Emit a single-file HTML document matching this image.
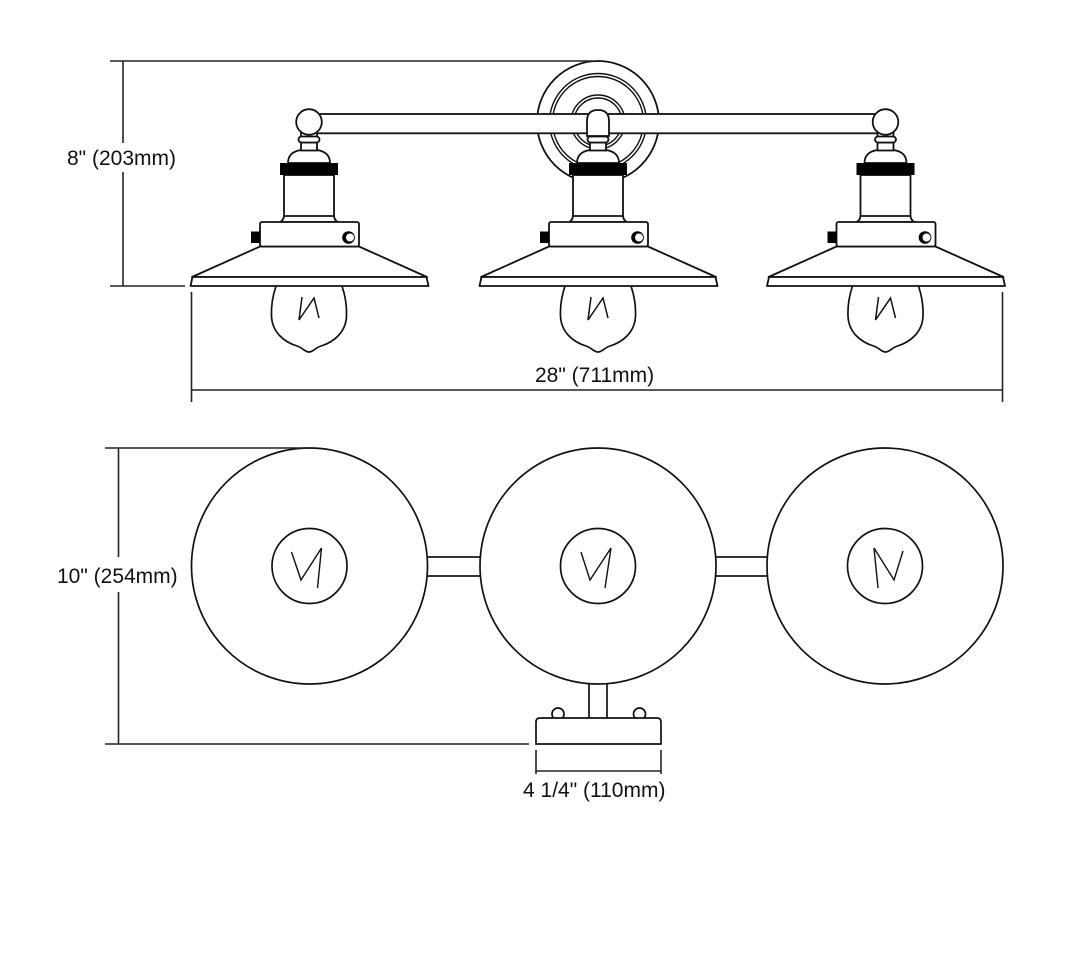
<!DOCTYPE html>
<html>
<head>
<meta charset="utf-8">
<style>
  html,body{margin:0;padding:0;background:#fff;}
  svg{display:block;}
  text{font-family:"Liberation Sans",Arial,sans-serif;font-size:21px;fill:#111;}
</style>
</head>
<body>
<svg width="1080" height="976" viewBox="0 0 1080 976" xmlns="http://www.w3.org/2000/svg">
  <defs>
    <g id="lower">
      <!-- dome -->
      <path d="M -8 150 Q -21 152 -21 163 L 21 163 Q 21 152 8 150 Z" fill="#fff" stroke="#111" stroke-width="1.8"/>
      <!-- neck -->
      <rect x="-8" y="142.5" width="16" height="8" fill="#fff" stroke="#111" stroke-width="1.8"/>
      <!-- collar -->
      <rect x="-10.5" y="136.5" width="21" height="6" rx="3" fill="#fff" stroke="#111" stroke-width="1.8"/>
      <!-- socket -->
      <rect x="-25" y="175" width="50" height="42" fill="#fff" stroke="#111" stroke-width="1.8"/>
      <!-- band -->
      <rect x="-29" y="163" width="58" height="12" fill="#000"/>
      <!-- flare -->
      <path d="M -25 216 Q -25.5 220.5 -29 222 L 29 222 Q 25.5 220.5 25 216 Z" fill="#fff" stroke="#111" stroke-width="1.8"/>
      <!-- bulb -->
      <path d="M -33 286 C -36 295 -38 305 -37.5 316 C -37 332 -25 342 -12 346 C -6 348 -4 352 0 352 C 4 352 6 348 12 346 C 25 342 37 332 37.5 316 C 38 305 36 295 33 286" fill="#fff" stroke="#111" stroke-width="1.7"/>
      <polyline points="-7,297 -10,320 5,298 10,318" fill="none" stroke="#111" stroke-width="1.5"/>
      <!-- shade -->
      <polygon points="-49,246.5 50,246.5 118,277 -117,277" fill="#fff" stroke="#111" stroke-width="1.8" stroke-linejoin="round"/>
      <path d="M -116.5 277 L 117.5 277 L 119.5 286 L -118.5 286 Z" fill="#fff" stroke="#111" stroke-width="1.8" stroke-linejoin="round"/>
      <!-- fitter -->
      <rect x="-49" y="222" width="99" height="24.5" rx="2" fill="#fff" stroke="#111" stroke-width="1.8"/>
      <rect x="-58" y="231.5" width="9" height="11.5" fill="#000"/>
      <circle cx="39.5" cy="237.5" r="6.3" fill="#000"/>
      <circle cx="41" cy="237.5" r="4" fill="#fff"/>
    </g>
    <g id="sideLamp">
      <rect x="-8" y="130" width="16" height="8" fill="#fff" stroke="#111" stroke-width="1.8"/>
      <circle cx="0" cy="122" r="12.8" fill="#fff" stroke="#111" stroke-width="1.8"/>
      <use href="#lower"/>
    </g>
  </defs>

  <!-- ===== FRONT VIEW ===== -->
  <!-- backplate -->
  <g fill="none" stroke="#111" stroke-width="1.8">
    <circle cx="598" cy="122" r="61"/>
    <circle cx="598" cy="122" r="48.5" stroke-width="1.4"/>
    <circle cx="598" cy="122" r="45.5" stroke-width="1.4"/>
    <circle cx="598" cy="122" r="27" stroke-width="1.4"/>
    <circle cx="598" cy="122" r="24" stroke-width="1.4"/>
  </g>
  <!-- arm bar -->
  <rect x="315" y="114" width="564" height="19.3" fill="#fff" stroke="#111" stroke-width="1.8"/>

  <!-- left & right lamps -->
  <use href="#sideLamp" transform="translate(309,0)"/>
  <use href="#sideLamp" transform="translate(885.5,0)"/>

  <!-- middle lamp -->
  <g transform="translate(598,0)">
    <path d="M -11 136 L -11 121 Q -11 110 0 110 Q 11 110 11 121 L 11 136 Z" fill="#fff" stroke="#111" stroke-width="1.8"/>
    <use href="#lower"/>
  </g>

  <!-- 8" dimension -->
  <g stroke="#222" stroke-width="1.6" fill="none">
    <line x1="110" y1="61" x2="592" y2="61"/>
    <line x1="110" y1="286" x2="185" y2="286"/>
    <line x1="123" y1="61" x2="123" y2="143"/>
    <line x1="123" y1="172" x2="123" y2="286"/>
  </g>
  <text x="67" y="165">8" (203mm)</text>

  <!-- 28" dimension -->
  <g stroke="#222" stroke-width="1.6" fill="none">
    <line x1="191.5" y1="292" x2="191.5" y2="402"/>
    <line x1="1002.5" y1="292" x2="1002.5" y2="402"/>
    <line x1="191.5" y1="390" x2="1002.5" y2="390"/>
  </g>
  <text x="535" y="382">28" (711mm)</text>

  <!-- ===== TOP VIEW ===== -->
  <g stroke="#111" stroke-width="1.7" fill="#fff">
    <rect x="420" y="557" width="68" height="19"/>
    <rect x="708" y="557" width="66" height="19"/>
    <rect x="589" y="670" width="18" height="50"/>
    <circle cx="558" cy="714" r="6"/>
    <circle cx="639.5" cy="714" r="6"/>
    <path d="M 536 744 L 536 722 Q 536 718 540 718 L 657 718 Q 661 718 661 722 L 661 744 Z"/>
    <circle cx="309.5" cy="566" r="118"/>
    <circle cx="598" cy="566" r="118"/>
    <circle cx="885" cy="566" r="118"/>
    <circle cx="309.5" cy="566" r="37.5"/>
    <circle cx="598" cy="566" r="37.5"/>
    <circle cx="885" cy="566" r="37.5"/>
  </g>
  <g stroke="#111" stroke-width="1.4" fill="none">
    <polyline points="291.5,552 301,580 321.5,548 317.5,588"/>
    <polyline points="581,552 590,580 611,548 605,588"/>
    <polyline points="878,588 874,548 894,580 903,551"/>
  </g>

  <!-- 10" dimension -->
  <g stroke="#222" stroke-width="1.6" fill="none">
    <line x1="105" y1="448" x2="310" y2="448"/>
    <line x1="105" y1="744" x2="529" y2="744"/>
    <line x1="118.5" y1="448" x2="118.5" y2="557"/>
    <line x1="118.5" y1="592" x2="118.5" y2="744"/>
  </g>
  <text x="57" y="583">10" (254mm)</text>

  <!-- 4 1/4" dimension -->
  <g stroke="#222" stroke-width="1.6" fill="none">
    <line x1="536" y1="750" x2="536" y2="774"/>
    <line x1="661" y1="750" x2="661" y2="774"/>
    <line x1="536" y1="771" x2="661" y2="771"/>
  </g>
  <text x="523" y="797">4 1/4" (110mm)</text>
</svg>
</body>
</html>
